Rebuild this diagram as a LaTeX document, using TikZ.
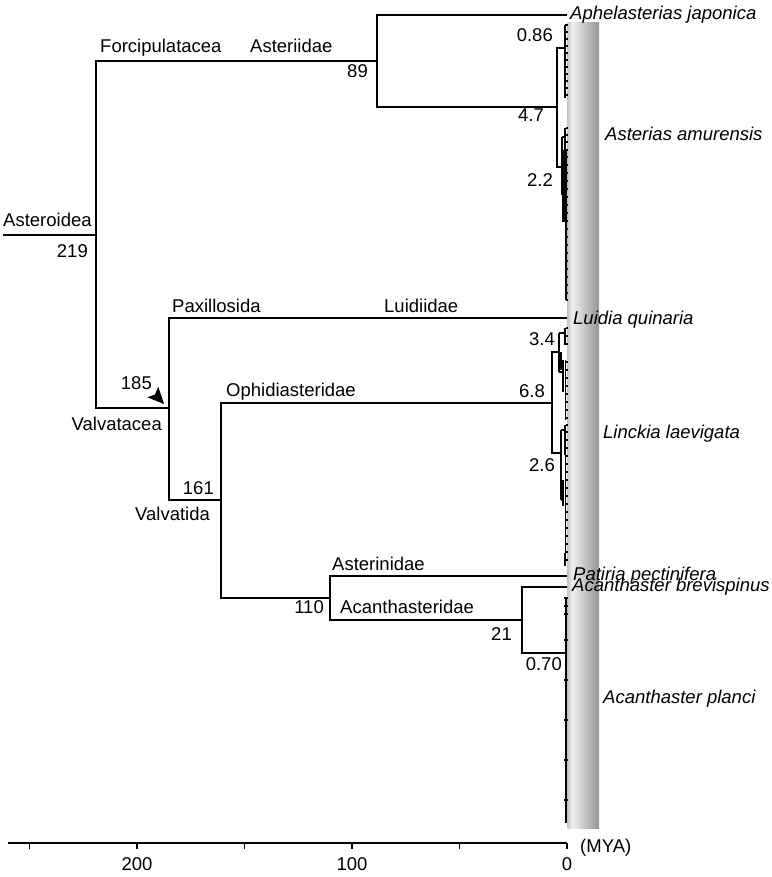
\documentclass[tikz,border=0pt]{standalone}
\usepackage{fontspec}
\setmainfont{Liberation Sans}
\begin{document}
\begin{tikzpicture}[x=1pt,y=-1pt,
  br/.style={line width=2pt},
  tp/.style={line width=1.2pt},
  thk/.style={line width=2.4pt},
  lbl/.style={inner sep=0pt,font=\fontsize{18.5}{21}\selectfont},
  sp/.style={inner sep=0pt,font=\fontsize{18.5}{21}\selectfont\itshape},
  axl/.style={line width=1.8pt}]
\useasboundingbox (0,0) rectangle (771,877);
% gray bar
\shade[left color=black!22,right color=black!6] (567.5,23) rectangle (572,828);
\shade[left color=black!6,right color=black!42] (572,23) rectangle (599,828);
% tree nodes
\coordinate (r0) at (3,235);
\coordinate (n219) at (96,235);
\coordinate (n89) at (377,61);
\coordinate (aph) at (567,15);
\coordinate (n47) at (557,107);
\coordinate (n086) at (565,48);
\coordinate (n22) at (562,167);
\coordinate (n185) at (169,408);
\coordinate (lui) at (567,318);
\coordinate (n161) at (221,500);
\coordinate (n68) at (552,403);
\coordinate (n34) at (559,352);
\coordinate (n26) at (561,453);
\coordinate (n110) at (330,598);
\coordinate (pat) at (567,576);
\coordinate (n21) at (522,620);
\coordinate (brev) at (567,587);
\coordinate (n070) at (566,653);
% branches
\draw[br] (r0) -- (n219);
\draw[br] (n219) |- (n89);
\draw[br] (n219) |- (n185);
\draw[br] (n89) |- (aph);
\draw[br] (n89) |- (n47);
\draw[br] (n47) |- (n086);
\draw[br] (n47) |- (n22);
\draw[br] (n185) |- (lui);
\draw[br] (n185) |- (n161);
\draw[br] (n161) |- (n68);
\draw[br] (n161) |- (n110);
\draw[br] (n68) |- (n34);
\draw[br] (n68) |- (n26);
\draw[br] (n110) |- (pat);
\draw[br] (n110) |- (n21);
\draw[br] (n21) |- (brev);
\draw[br] (n21) |- (n070);
% Asterias clade 0.86
\coordinate (a1t) at (565,25);
\coordinate (a1b) at (565,98);
\draw[tp] (a1t) -- (a1b);
\foreach \y in {25,32,39,46,53,60,67,74,81,88,95}{\draw[tp] (565,\y) -- (567.5,\y);}
% Asterias clade 2.2
\coordinate (b1t) at (562,137);
\coordinate (b1b) at (562,195);
\draw[br] (b1t) -- (b1b);
\draw[tp] (b1t) -- (565,137);
\draw[tp] (565,128) -- (565,158);
\draw[thk] (563.5,150) -- (563.5,222);
\draw[line width=1.8pt] (565.8,150) -- (565.8,300);
\foreach \y in {128,135,142,150,157,165,173,181,189,197,205,213,221,229,237,245,253,261,269,277,285,293,300}{\draw[tp] (565.5,\y) -- (567.5,\y);}
% Linckia clade 3.4
\coordinate (c1t) at (559,333);
\coordinate (c1b) at (559,372);
\draw[br] (c1t) -- (c1b);
\draw[tp] (c1t) -- (565,333);
\draw[tp] (565,328) -- (565,345);
\draw[thk] (560.5,352) -- (560.5,370);
\draw[tp] (c1b) -- (563,372);
\draw[tp] (563,360) -- (563,392);
\draw[tp] (565.5,360) -- (565.5,420);
\foreach \y in {328,336,344,362,370,378,386,394,402,410,418}{\draw[tp] (565.5,\y) -- (567.5,\y);}
% Linckia clade 2.6
\coordinate (d1t) at (561,430);
\coordinate (d1b) at (561,500);
\draw[br] (d1t) -- (d1b);
\draw[tp] (d1t) -- (565,430);
\draw[tp] (565,425) -- (565,455);
\draw[tp] (d1b) -- (563,500);
\draw[thk] (563,480) -- (563,506);
\draw[tp] (565.5,455) -- (565.5,560);
\foreach \y in {425,432,440,448,456,464,472,480,488,496,504,512,520,528,536,544,552,560}{\draw[tp] (565.5,\y) -- (567.5,\y);}
\draw[tp] (565,553) -- (565,566);
% Acanthaster planci
\draw[thk] (566,598) -- (566,823);
\foreach \y in {598,606,614,640,680,720,760,800}{\draw[tp] (564,\y) -- (567.5,\y);}
% arrowhead
\fill (164,404) -- (147.3,397.3) -- (155,394.5) -- (158.3,386.7) -- cycle;
% labels
\node[lbl,anchor=base west] (tAst) at (3,227) {Asteroidea};
\node[lbl,anchor=base east] (t219) at (88,258) {219};
\node[lbl,anchor=base west] (tFor) at (100,53) {Forcipulatacea};
\node[lbl,anchor=base west] (tAsti) at (250,53) {Asteriidae};
\node[lbl,anchor=base east] (t89) at (368,78) {89};
\node[sp,anchor=base west] (tAph) at (570,20) {Aphelasterias japonica};
\node[lbl,anchor=base east] (t086) at (553,42) {0.86};
\node[lbl,anchor=base east] (t47) at (544,122) {4.7};
\node[lbl,anchor=base east] (t22) at (553,187) {2.2};
\node[sp,anchor=base west] (tAam) at (605,141) {Asterias amurensis};
\node[sp,anchor=base west] (tLui) at (573,324) {Luidia quinaria};
\node[lbl,anchor=base west] (tPax) at (172,312) {Paxillosida};
\node[lbl,anchor=base west] (tLuid) at (384,312) {Luidiidae};
\node[lbl,anchor=base east] (t185) at (152,389) {185};
\node[lbl,anchor=base east] (tVal) at (162,430) {Valvatacea};
\node[lbl,anchor=base west] (tOph) at (226,396) {Ophidiasteridae};
\node[lbl,anchor=base east] (t68) at (545,397) {6.8};
\node[lbl,anchor=base east] (t34) at (555,345) {3.4};
\node[lbl,anchor=base east] (t26) at (555,471) {2.6};
\node[sp,anchor=base west] (tLin) at (603,438) {Linckia laevigata};
\node[lbl,anchor=base east] (t161) at (214,494) {161};
\node[lbl,anchor=base west] (tValv) at (135,520) {Valvatida};
\node[lbl,anchor=base west] (tAsn) at (332,570) {Asterinidae};
\node[sp,anchor=base west] (tPat) at (573,580) {Patiria pectinifera};
\node[sp,anchor=base west] (tBre) at (572,591) {Acanthaster brevispinus};
\node[lbl,anchor=base east] (t110) at (324,613) {110};
\node[lbl,anchor=base west] (tAcd) at (340,613) {Acanthasteridae};
\node[lbl,anchor=base east] (t21) at (512,640) {21};
\node[lbl,anchor=base east] (t070) at (562,670) {0.70};
\node[sp,anchor=base west] (tApl) at (603,703) {Acanthaster planci};
% axis
\coordinate (ax0) at (8,843);
\coordinate (ax1) at (567,843);
\draw[axl] (ax0) -- (ax1);
\foreach \v in {0,50,100,150,200,250}{\draw[axl] (567-2.15*\v,843) -- ++(0,6);}
\node[lbl,anchor=base] (x200) at (137,870) {200};
\node[lbl,anchor=base] (x100) at (352,870) {100};
\node[lbl,anchor=base] (x0) at (567,870) {0};
\node[lbl,anchor=base west] (xmya) at (580,852) {(MYA)};
\end{tikzpicture}
\end{document}
